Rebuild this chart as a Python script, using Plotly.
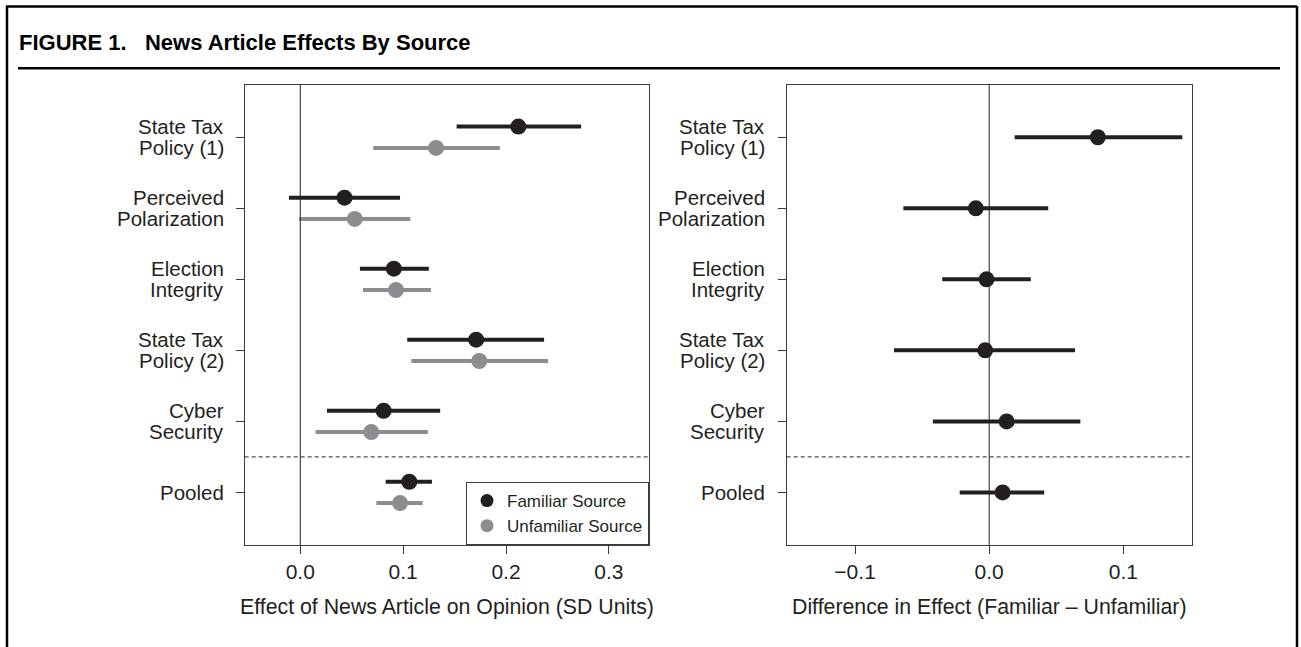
import plotly.graph_objects as go

# ---------------- data ----------------
label_line1 = ["State Tax", "Perceived", "Election", "State Tax", "Cyber", "Pooled"]
label_line2 = ["Policy (1)", "Polarization", "Integrity", "Policy (2)", "Security", ""]

fam_est = [0.212, 0.043, 0.091, 0.171, 0.081, 0.106]
fam_lo = [0.152, -0.011, 0.058, 0.104, 0.026, 0.083]
fam_hi = [0.273, 0.097, 0.125, 0.237, 0.136, 0.128]

unf_est = [0.132, 0.053, 0.093, 0.174, 0.069, 0.097]
unf_lo = [0.071, -0.001, 0.061, 0.108, 0.015, 0.074]
unf_hi = [0.194, 0.107, 0.127, 0.241, 0.124, 0.119]

diff_est = [0.081, -0.010, -0.002, -0.003, 0.013, 0.010]
diff_lo = [0.019, -0.064, -0.035, -0.071, -0.042, -0.022]
diff_hi = [0.144, 0.044, 0.031, 0.064, 0.068, 0.041]

left_ticks = [0.0, 0.1, 0.2, 0.3]
right_ticks = [-0.1, 0.0, 0.1]

series_names = ["Familiar Source", "Unfamiliar Source"]

# ---------------- styling / layout ----------------
W, H = 1301, 647
BLACK = "#231f20"
GRAY = "#8c8d90"
FRAME = "#3c3c3c"
FONT = "Liberation Sans, Arial, Helvetica, sans-serif"

n = len(label_line1)
ypos = [n - i for i in range(n)]
off = 0.15


def px_x(p):
    return p / W


def px_y(p):
    return 1 - p / H


left_dom = [px_x(244.7), px_x(649)]
right_dom = [px_x(786.7), px_x(1191.7)]
y_dom = [px_y(545), px_y(84.7)]


def seg(lo, hi, ys):
    xs, yy = [], []
    for a, b, y in zip(lo, hi, ys):
        xs += [a, b, None]
        yy += [y, y, None]
    return xs, yy


fig = go.Figure()

y_f = [y + off for y in ypos]
y_u = [y - off for y in ypos]
xs, yy = seg(fam_lo, fam_hi, y_f)
fig.add_trace(go.Scatter(x=xs, y=yy, mode="lines", line=dict(color=BLACK, width=4),
                         showlegend=False, hoverinfo="skip", xaxis="x", yaxis="y"))
xs, yy = seg(unf_lo, unf_hi, y_u)
fig.add_trace(go.Scatter(x=xs, y=yy, mode="lines", line=dict(color=GRAY, width=4),
                         showlegend=False, hoverinfo="skip", xaxis="x", yaxis="y"))
fig.add_trace(go.Scatter(x=fam_est, y=y_f, mode="markers", name=series_names[0],
                         marker=dict(color=BLACK, size=16), showlegend=False,
                         xaxis="x", yaxis="y"))
fig.add_trace(go.Scatter(x=unf_est, y=y_u, mode="markers", name=series_names[1],
                         marker=dict(color=GRAY, size=16), showlegend=False,
                         xaxis="x", yaxis="y"))
fig.add_trace(go.Scatter(x=[None], y=[None], mode="markers", name=series_names[0],
                         marker=dict(color=BLACK, size=13), xaxis="x", yaxis="y"))
fig.add_trace(go.Scatter(x=[None], y=[None], mode="markers", name=series_names[1],
                         marker=dict(color=GRAY, size=13), xaxis="x", yaxis="y"))

xs, yy = seg(diff_lo, diff_hi, ypos)
fig.add_trace(go.Scatter(x=xs, y=yy, mode="lines", line=dict(color=BLACK, width=4),
                         showlegend=False, hoverinfo="skip", xaxis="x2", yaxis="y2"))
fig.add_trace(go.Scatter(x=diff_est, y=ypos, mode="markers", name="Difference",
                         marker=dict(color=BLACK, size=16), showlegend=False,
                         xaxis="x2", yaxis="y2"))

axis_common = dict(showgrid=False, zeroline=False, showline=True, mirror=True,
                   linecolor=FRAME, linewidth=1, ticks="outside", tickcolor=FRAME,
                   tickwidth=1, fixedrange=True)

fig.update_layout(
    width=W, height=H,
    margin=dict(l=0, r=0, t=0, b=0),
    paper_bgcolor="white", plot_bgcolor="white",
    font=dict(family=FONT, color=BLACK),
    xaxis=dict(domain=left_dom, range=[-0.054, 0.339], tickvals=left_ticks,
               tickformat=".1f", ticklen=8, tickfont=dict(size=21, color=BLACK),
               anchor="y", **axis_common),
    yaxis=dict(domain=y_dom, range=[0.26, 6.74], tickvals=ypos, ticktext=[""] * n,
               ticklen=8, anchor="x", **axis_common),
    xaxis2=dict(domain=right_dom, range=[-0.151, 0.151], tickvals=right_ticks,
                tickformat=".1f", ticklen=8, tickfont=dict(size=21, color=BLACK),
                anchor="y2", **axis_common),
    yaxis2=dict(domain=y_dom, range=[0.26, 6.74], tickvals=ypos, ticktext=[""] * n,
                ticklen=8, anchor="x2", **axis_common),
    legend=dict(x=left_dom[1], y=y_dom[0], xanchor="right", yanchor="bottom",
                bgcolor="white", bordercolor=FRAME, borderwidth=1,
                font=dict(size=17, color=BLACK), tracegroupgap=0),
    showlegend=True,
)

shapes = []
for xr, yr in (("x", "y"), ("x2", "y2")):
    shapes.append(dict(type="line", xref=xr, yref=f"{yr} domain", x0=0, x1=0, y0=0, y1=1,
                       line=dict(color=BLACK, width=1)))
    shapes.append(dict(type="line", xref=f"{xr} domain", yref=yr, x0=0, x1=1, y0=1.5, y1=1.5,
                       line=dict(color=BLACK, width=1, dash="4px,3px")))
shapes.append(dict(type="line", xref="paper", yref="paper", x0=px_x(7), x1=px_x(7),
                   y0=px_y(6), y1=px_y(660), line=dict(color="black", width=2.5)))
shapes.append(dict(type="line", xref="paper", yref="paper", x0=px_x(6), x1=px_x(1297),
                   y0=px_y(6.5), y1=px_y(6.5), line=dict(color="black", width=2.5)))
shapes.append(dict(type="line", xref="paper", yref="paper", x0=px_x(1297), x1=px_x(1297),
                   y0=px_y(6), y1=px_y(660), line=dict(color="black", width=2.5)))
shapes.append(dict(type="line", xref="paper", yref="paper", x0=px_x(18), x1=px_x(1280),
                   y0=px_y(68.3), y1=px_y(68.3), line=dict(color="black", width=2.5)))
fig.update_layout(shapes=shapes)

ann = []
ann.append(dict(text="<b>FIGURE 1.\u00a0\u00a0\u00a0News Article Effects By Source</b>",
                xref="paper", yref="paper", x=px_x(17), y=px_y(42.5), xanchor="left",
                yanchor="middle", showarrow=False,
                font=dict(family="Liberation Sans, Arial", size=22, color="black")))
LBL = 20.5
for yr, xright in (("y", 226), ("y2", 767)):
    for l1, l2, y in zip(label_line1, label_line2, ypos):
        if l2:
            ann.append(dict(text=l1, xref="paper", yref=yr, x=px_x(xright), y=y,
                            yshift=10.5, xanchor="right", yanchor="middle", showarrow=False,
                            font=dict(size=LBL, color=BLACK)))
            ann.append(dict(text=l2, xref="paper", yref=yr, x=px_x(xright), y=y,
                            yshift=-10.5, xanchor="right", yanchor="middle", showarrow=False,
                            font=dict(size=LBL, color=BLACK)))
        else:
            ann.append(dict(text=l1, xref="paper", yref=yr, x=px_x(xright), y=y,
                            xanchor="right", yanchor="middle", showarrow=False,
                            font=dict(size=LBL, color=BLACK)))
ann.append(dict(text="Effect of News Article on Opinion (SD Units)", xref="paper", yref="paper",
                x=px_x(447), y=px_y(607), xanchor="center", yanchor="middle", showarrow=False,
                font=dict(size=21.3, color=BLACK)))
ann.append(dict(text="Difference in Effect (Familiar \u2013 Unfamiliar)", xref="paper", yref="paper",
                x=px_x(989), y=px_y(607), xanchor="center", yanchor="middle", showarrow=False,
                font=dict(size=21.3, color=BLACK)))
fig.update_layout(annotations=ann)

fig.write_html("out.html", config={"displayModeBar": False},
               post_script="document.body.style.margin='0';document.body.style.padding='0';")
